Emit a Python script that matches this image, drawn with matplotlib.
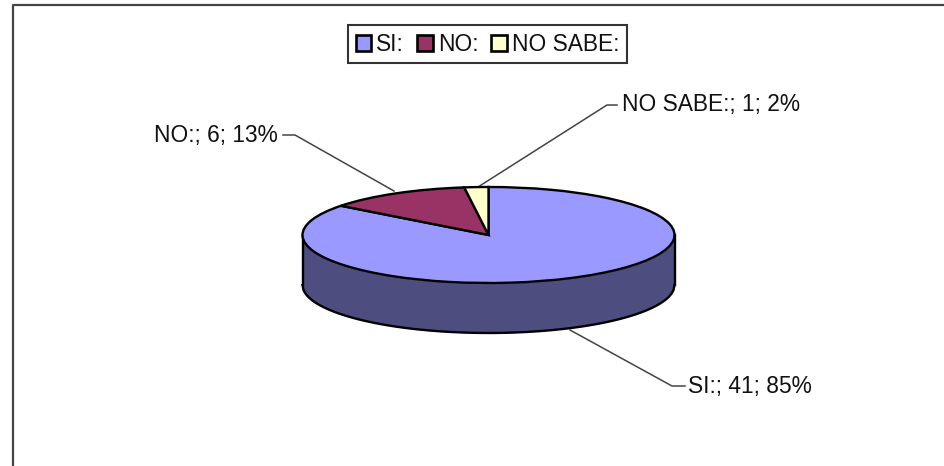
import numpy as np
import matplotlib
matplotlib.use("Agg")
import matplotlib.pyplot as plt
from matplotlib.patches import Patch

categories = ["SI:", "NO:", "NO SABE:"]
counts = [41, 6, 1]
percents = [85, 13, 2]
colors = ["#9999FF", "#993366", "#FFFFCC"]
side_color = "#4D4D80"

W, H = 944, 466
FS = 16.4
plt.rcParams["font.family"] = ["Liberation Sans", "DejaVu Sans"]
fig = plt.figure(figsize=(W / 100, H / 100), dpi=100, facecolor="white")

# Pixel-coordinate layer for frame, leaders, and labels
bg = fig.add_axes([0, 0, 1, 1], zorder=1)
bg.set_xlim(0, W)
bg.set_ylim(H, 0)
bg.axis("off")
bg.plot([12.5, 12.5, W + 5], [H + 5, 5, 5], color="#444444", lw=1.6, clip_on=False)

labels = [f"{c}; {n}; {p}%" for c, n, p in zip(categories, counts, percents)]
label_pos = [(688, 386), (278, 135.5), (622, 105)]
aligns = ["left", "right", "left"]
leaders = [[(570, 330), (672, 386), (685, 386)],
           [(283, 135), (295, 135), (394, 191)],
           [(478, 187), (607, 105), (617, 105)]]
for t, p, a, l in zip(labels, label_pos, aligns, leaders):
    bg.text(p[0], p[1], t, ha=a, va="center", fontsize=FS, color="#111111")
    xs, ys = zip(*l)
    bg.plot(xs, ys, color="#444444", lw=1.1)

# Pie layer: unit circle maps onto the projected ellipse
cx, cy, rx, ry, depth = 488.5, 235, 186, 48, 50
ax = fig.add_axes([0, 0, 1, 1], zorder=2)
ax.patch.set_alpha(0)
wedges, _ = ax.pie(counts, colors=colors, startangle=90, counterclock=False,
                   wedgeprops=dict(edgecolor="black", linewidth=1.7))
ax.set_aspect("auto")
ax.set_xlim(-cx / rx, (W - cx) / rx)
ax.set_ylim((cy - H) / ry, cy / ry)
ax.axis("off")

# Extruded side of the pie
xs = np.linspace(-1, 1, 400)
lower = -np.sqrt(1 - xs ** 2)
d = depth / ry
ax.fill_between(xs, lower, lower - d, color=side_color, zorder=0, lw=0)
ax.plot(xs, lower - d, color="black", lw=1.7, zorder=0.5)
ax.plot([-1, -1], [0, -d], color="black", lw=1.7, zorder=0.5)
ax.plot([1, 1], [0, -d], color="black", lw=1.7, zorder=0.5)

# Legend
handles = [Patch(facecolor=c, edgecolor="black", linewidth=1.9) for c in colors]
leg = fig.legend(handles, categories, ncol=3, loc="upper left",
                 bbox_to_anchor=(348 / W, 1 - 25 / H), bbox_transform=fig.transFigure,
                 fontsize=FS, frameon=True, fancybox=False, framealpha=1,
                 edgecolor="#333333", handlelength=0.7, handleheight=0.7,
                 handletextpad=0.22, columnspacing=0.55, borderpad=0.33,
                 borderaxespad=0, labelcolor="#111111")
leg.get_frame().set_linewidth(1.5)
leg.set_zorder(5)

fig.savefig("out.png", dpi=100, facecolor="white")
